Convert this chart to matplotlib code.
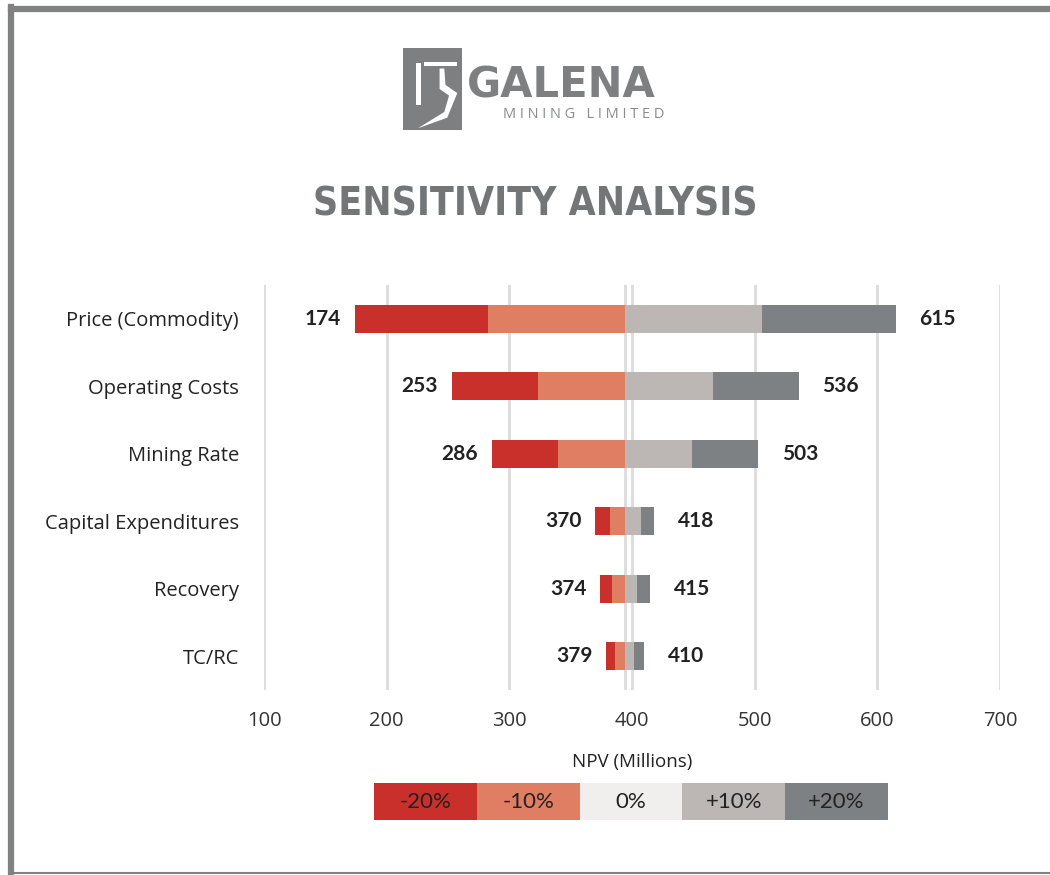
import numpy as np
import matplotlib.pyplot as plt
from matplotlib.patches import Rectangle, Polygon
from matplotlib.lines import Line2D

# tornado data, NPV in millions
categories = ['Price (Commodity)', 'Operating Costs', 'Mining Rate',
              'Capital Expenditures', 'Recovery', 'TC/RC']
low20 = np.array([174, 253, 286, 370, 374, 379])
low10 = np.array([283, 323, 340, 382, 384, 386])
base = 394
high10 = np.array([506, 466, 449, 407, 404, 402])
high20 = np.array([615, 536, 503, 418, 415, 410])

legend_labels = ['-20%', '-10%', '0%', '+10%', '+20%']
colors = ['#c9302b', '#e07e63', '#f1efed', '#bcb7b5', '#7e8183']
xticks = [100, 200, 300, 400, 500, 600, 700]

fig = plt.figure(figsize=(10.5, 8.75), dpi=100)

# outer frame: thick top + left, thin bottom
frame = '#808282'
fig.lines.append(Line2D([11 / 1050, 1], [1 - 9 / 875] * 2, transform=fig.transFigure,
                        color=frame, linewidth=4.5))
fig.lines.append(Line2D([11 / 1050] * 2, [0, 1 - 7 / 875], transform=fig.transFigure,
                        color=frame, linewidth=4.5))
fig.lines.append(Line2D([11 / 1050, 1], [2.5 / 875] * 2, transform=fig.transFigure,
                        color=frame, linewidth=1.5))

# logo
lx0, ly0, lw, lh = 403 / 1050, 1 - 130 / 875, 59 / 1050, 82 / 875
fig.patches.append(Rectangle((lx0, ly0), lw, lh, transform=fig.transFigure,
                             facecolor='#7d7f80', edgecolor='none'))
fig.patches.append(Rectangle((lx0 + 0.22 * lw, ly0 + 0.30 * lh), 0.08 * lw, 0.52 * lh,
                             transform=fig.transFigure, facecolor='white', edgecolor='none'))
fig.patches.append(Rectangle((lx0 + 0.36 * lw, ly0 + 0.78 * lh), 0.55 * lw, 0.05 * lh,
                             transform=fig.transFigure, facecolor='white', edgecolor='none'))
fig.patches.append(Polygon([(lx0 + 0.62 * lw, ly0 + 0.75 * lh), (lx0 + 0.70 * lw, ly0 + 0.75 * lh),
                            (lx0 + 0.72 * lw, ly0 + 0.55 * lh), (lx0 + 0.92 * lw, ly0 + 0.45 * lh),
                            (lx0 + 0.75 * lw, ly0 + 0.15 * lh), (lx0 + 0.25 * lw, ly0 + 0.02 * lh),
                            (lx0 + 0.70 * lw, ly0 + 0.22 * lh), (lx0 + 0.78 * lw, ly0 + 0.42 * lh),
                            (lx0 + 0.62 * lw, ly0 + 0.50 * lh)],
                           closed=True, transform=fig.transFigure,
                           facecolor='white', edgecolor='none'))
fig.text(467 / 1050, 1 - 97 / 875, 'GALENA', fontsize=30, fontweight='bold',
         color='#7d7f80', family='DejaVu Sans', va='baseline', ha='left')
fig.text(664 / 1050, 1 - 118 / 875, 'M I N I N G   L I M I T E D', fontsize=10.5,
         color='#8a8c8d', family=['Open Sans', 'DejaVu Sans'], va='baseline', ha='right')

fig.text(535 / 1050, 1 - 216 / 875, 'SENSITIVITY ANALYSIS', fontsize=28, fontweight='bold',
         fontstretch='condensed', color='#737576', family='DejaVu Sans',
         ha='center', va='baseline')

ax = fig.add_axes([264 / 1050, 1 - 690 / 875, 736 / 1050, 405 / 875])
y = np.arange(len(categories))
h = 0.42
ax.barh(y, low10 - low20, left=low20, height=h, color=colors[0], zorder=3)
ax.barh(y, base - low10, left=low10, height=h, color=colors[1], zorder=3)
ax.barh(y, high10 - base, left=base, height=h, color=colors[3], zorder=3)
ax.barh(y, high20 - high10, left=high10, height=h, color=colors[4], zorder=3)

for i in range(len(categories)):
    ax.annotate(str(low20[i]), (low20[i], y[i]), xytext=(-10, 0), textcoords='offset points',
                ha='right', va='center', fontsize=15, fontweight='bold',
                color='#222222', family=['Lato', 'DejaVu Sans'])
    ax.annotate(str(high20[i]), (high20[i], y[i]), xytext=(17, 0), textcoords='offset points',
                ha='left', va='center', fontsize=15, fontweight='bold',
                color='#222222', family=['Lato', 'DejaVu Sans'])

ax.set_xlim(100, 700)
ax.set_ylim(len(categories) - 0.5, -0.5)
ax.set_xticks(xticks)
ax.set_xticklabels([str(t) for t in xticks], fontsize=14.5, color='#333333',
                   family=['Open Sans', 'DejaVu Sans'])
ax.set_yticks(y)
ax.set_yticklabels(categories, fontsize=14.5, color='#222222',
                   family=['Open Sans', 'DejaVu Sans'])
ax.tick_params(length=0)
ax.tick_params(axis='x', pad=15)
ax.tick_params(axis='y', pad=18)
ax.grid(axis='x', color='#dcdcdc', linewidth=2, zorder=0)
ax.axvline(base, color='#dcdcdc', linewidth=2, zorder=0)
for s in ax.spines.values():
    s.set_visible(False)
ax.set_xlabel('NPV (Millions)', fontsize=13.5, color='#222222',
              family=['Open Sans', 'DejaVu Sans'], labelpad=16)

# legend strip
lax = fig.add_axes([374 / 1050, 1 - 820 / 875, 514 / 1050, 37 / 875])
for i, lab in enumerate(legend_labels):
    lax.barh(0, 1, left=i, height=1, color=colors[i])
    lax.text(i + 0.5, 0, lab, ha='center', va='center', fontsize=16,
             color='#222222', family=['Lato', 'DejaVu Sans'])
lax.set_xlim(0, len(legend_labels))
lax.set_ylim(-0.5, 0.5)
lax.axis('off')

fig.savefig('out.png', dpi=100, facecolor='white')
